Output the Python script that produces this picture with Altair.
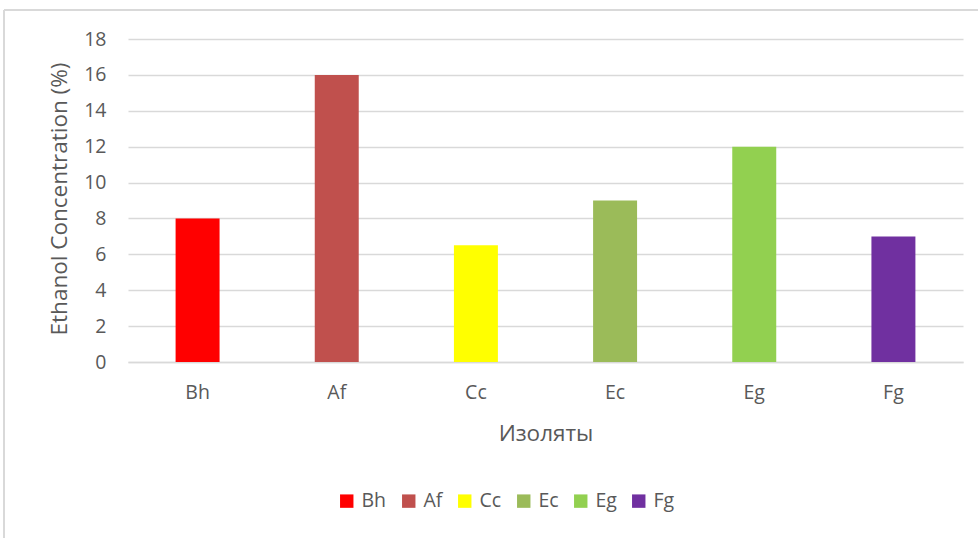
import altair as alt
import pandas as pd

# Ethanol concentration per isolate
isolates = ["Bh", "Af", "Cc", "Ec", "Eg", "Fg"]
ethanol_pct = [8, 16, 6.5, 9, 12, 7]
bar_colors = ["#FF0000", "#C0504D", "#FFFF00", "#9BBB59", "#92D050", "#7030A0"]
y_ticks = [0, 2, 4, 6, 8, 10, 12, 14, 16, 18]

df = pd.DataFrame({"isolate": isolates, "ethanol": ethanol_pct})

FONT = "Open Sans"
TEXT = "#595959"
GRID = "#D9D9D9"

W, H = 835, 323
LEFT, TOP = 128, 39

bars = alt.Chart(df).mark_bar().encode(
    x=alt.X(
        "isolate:N",
        sort=isolates,
        scale=alt.Scale(paddingInner=0.684, paddingOuter=0.342),
        axis=alt.Axis(
            title="Изоляты",
            labelAngle=0,
            labelPadding=21,
            labelFontSize=19.5,
            labelColor=TEXT,
            labelFont=FONT,
            ticks=False,
            domainColor=GRID,
            domainWidth=1.5,
            titleFont=FONT,
            titleFontSize=22.5,
            titleFontWeight="normal",
            titleColor=TEXT,
            titleX=W / 2,
            titleY=71,
            titleBaseline="middle",
        ),
    ),
    y=alt.Y(
        "ethanol:Q",
        scale=alt.Scale(domain=[0, 18], nice=False),
        axis=alt.Axis(
            title="Ethanol Concentration (%)",
            values=y_ticks,
            labelPadding=22,
            labelFontSize=19.5,
            labelColor=TEXT,
            labelFont=FONT,
            ticks=False,
            domain=False,
            grid=True,
            gridColor=GRID,
            gridWidth=1.5,
            titleFont=FONT,
            titleFontSize=22.5,
            titleFontWeight="normal",
            titleColor=TEXT,
            titleAngle=270,
            titleX=-69,
            titleY=H / 2 - 2,
            titleAlign="center",
            titleBaseline="middle",
        ),
    ),
    color=alt.Color(
        "isolate:N",
        sort=isolates,
        scale=alt.Scale(domain=isolates, range=bar_colors),
        legend=alt.Legend(
            title=None,
            orient="none",
            direction="horizontal",
            legendX=209,
            legendY=452,
            symbolType="square",
            symbolSize=180,
            symbolStrokeWidth=0,
            labelFont=FONT,
            labelFontSize=19.5,
            labelColor=TEXT,
            labelOffset=5,
            columnPadding=12,
        ),
    ),
)

# light outer frame around the chart area
frame_top = alt.Chart(df).mark_rule(color="#D9D9D9", strokeWidth=1.5).encode(
    x=alt.value(4 - LEFT), x2=alt.value(990 - LEFT), y=alt.value(10 - TOP)
)
frame_left = alt.Chart(df).mark_rule(color="#D9D9D9", strokeWidth=1.5).encode(
    x=alt.value(4 - LEFT), y=alt.value(10 - TOP), y2=alt.value(550 - TOP)
)

chart = (
    alt.layer(frame_top, frame_left, bars)
    .properties(
        width=W,
        height=H,
        autosize=alt.AutoSizeParams(type="none"),
        padding={"left": LEFT, "top": TOP, "right": 978 - LEFT - W, "bottom": 538 - TOP - H},
        background="white",
    )
    .configure_view(stroke=None)
)

chart.save("out.html", embed_options={"renderer": "svg", "actions": False})
